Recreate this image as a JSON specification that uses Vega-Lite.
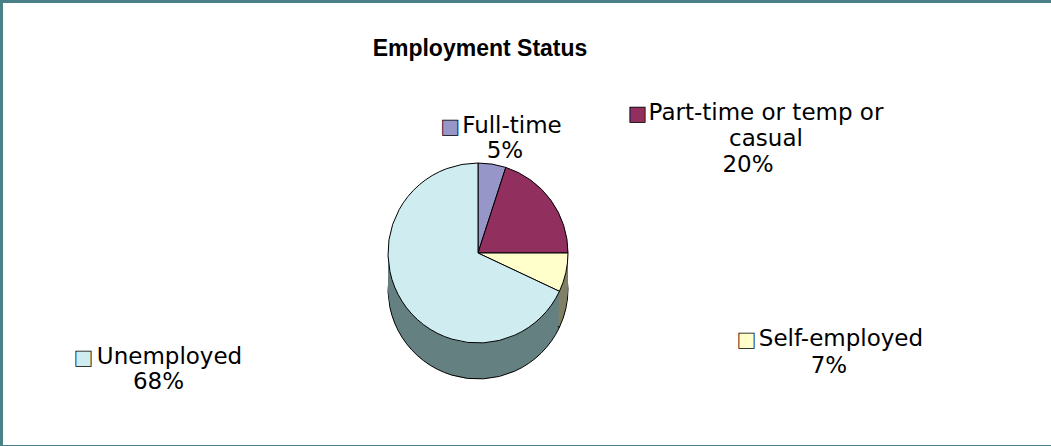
{
  "$schema": "https://vega.github.io/schema/vega-lite/v6.json",
  "autosize": {"type": "fit", "contains": "padding"},
  "width": 1051,
  "height": 446,
  "padding": {"left": 3, "top": 3, "right": 0, "bottom": 1},
  "background": "#4a8087",
  "view": {"stroke": null, "fill": "white"},
  "config": {"view": {"stroke": null, "fill": "white"}},
  "title": {"text": "Employment Status", "font": "Liberation Sans", "fontSize": 23, "fontWeight": "bold", "color": "#000000", "anchor": "middle", "baseline": "alphabetic", "dx": -47, "dy": 76, "offset": 0},
  "data": {"values": [
    {"category": "Full-time", "name": "Full-time", "pct": "5%", "value": 5, "order": 1},
    {"category": "Part-time or temp or casual", "name": "Part-time or temp or\ncasual", "pct": "20%", "value": 20, "order": 2},
    {"category": "Self-employed", "name": "Self-employed", "pct": "7%", "value": 7, "order": 3},
    {"category": "Unemployed", "name": "Unemployed", "pct": "68%", "value": 68, "order": 4}
  ]},
  "encoding": {
    "theta": {"field": "value", "type": "quantitative", "stack": true},
    "order": {"field": "order", "type": "quantitative"}
  },
  "layer": [
    {"mark": {"type": "arc", "radius": 90, "xOffset": -49, "yOffset": 65, "stroke": "black", "strokeWidth": 1},
     "encoding": {"fill": {"field": "category", "type": "nominal", "legend": null, "scale": {"domain": ["Full-time", "Part-time or temp or casual", "Self-employed", "Unemployed"], "range": ["#4b4b64", "#481830", "#808066", "#658080"]}}}},
    {"mark": {"type": "arc", "radius": 90, "xOffset": -49, "yOffset": 61, "strokeWidth": 0},
     "encoding": {"fill": {"field": "category", "type": "nominal", "legend": null}}},
    {"mark": {"type": "arc", "radius": 90, "xOffset": -49, "yOffset": 57, "strokeWidth": 0},
     "encoding": {"fill": {"field": "category", "type": "nominal", "legend": null}}},
    {"mark": {"type": "arc", "radius": 90, "xOffset": -49, "yOffset": 53, "strokeWidth": 0},
     "encoding": {"fill": {"field": "category", "type": "nominal", "legend": null}}},
    {"mark": {"type": "arc", "radius": 90, "xOffset": -49, "yOffset": 49, "strokeWidth": 0},
     "encoding": {"fill": {"field": "category", "type": "nominal", "legend": null}}},
    {"mark": {"type": "arc", "radius": 90, "xOffset": -49, "yOffset": 45, "strokeWidth": 0},
     "encoding": {"fill": {"field": "category", "type": "nominal", "legend": null}}},
    {"mark": {"type": "arc", "radius": 90, "xOffset": -49, "yOffset": 41, "strokeWidth": 0},
     "encoding": {"fill": {"field": "category", "type": "nominal", "legend": null}}},
    {"mark": {"type": "arc", "radius": 90, "xOffset": -49, "yOffset": 37, "strokeWidth": 0},
     "encoding": {"fill": {"field": "category", "type": "nominal", "legend": null}}},
    {"mark": {"type": "arc", "radius": 90, "xOffset": -49, "yOffset": 33, "strokeWidth": 0},
     "encoding": {"fill": {"field": "category", "type": "nominal", "legend": null}}},
    {"mark": {"type": "arc", "radius": 90, "xOffset": -49, "yOffset": 29, "stroke": "black", "strokeWidth": 1},
     "encoding": {"color": {"field": "category", "type": "nominal", "legend": null, "scale": {"domain": ["Full-time", "Part-time or temp or casual", "Self-employed", "Unemployed"], "range": ["#9696c8", "#912f5f", "#ffffcc", "#cfedf0"]}}}},

    {"mark": {"type": "text", "clip": true, "radius": 120, "dx": -105.1, "dy": 27.8, "align": "left", "baseline": "alphabetic", "font": "DejaVu Sans", "fontSize": 20, "stroke": "black", "strokeWidth": 0.8},
     "encoding": {"detail": {"field": "category"}, "color": {"field": "category", "type": "nominal", "legend": null}, "text": {"condition": {"test": "datum.category === 'Full-time'", "value": "■"}, "value": ""}}},
    {"mark": {"type": "text", "clip": true, "radius": 120, "dx": -33.8, "dy": 27.8, "align": "center", "baseline": "alphabetic", "font": "DejaVu Sans", "fontSize": 23, "fill": "black"},
     "encoding": {"detail": {"field": "category"}, "text": {"condition": {"test": "datum.category === 'Full-time'", "field": "name", "type": "nominal"}, "value": ""}}},
    {"mark": {"type": "text", "clip": true, "radius": 120, "dx": -40.8, "dy": 52.8, "align": "center", "baseline": "alphabetic", "font": "DejaVu Sans", "fontSize": 23, "fill": "black"},
     "encoding": {"detail": {"field": "category"}, "text": {"condition": {"test": "datum.category === 'Full-time'", "field": "pct", "type": "nominal"}, "value": ""}}},

    {"mark": {"type": "text", "clip": true, "radius": 230, "dx": -85.1, "dy": 31, "align": "left", "baseline": "alphabetic", "font": "DejaVu Sans", "fontSize": 20, "stroke": "black", "strokeWidth": 0.8},
     "encoding": {"detail": {"field": "category"}, "color": {"field": "category", "type": "nominal", "legend": null}, "text": {"condition": {"test": "datum.category === 'Part-time or temp or casual'", "value": "■"}, "value": ""}}},
    {"mark": {"type": "text", "clip": true, "radius": 230, "dx": 52.9, "dy": 31, "align": "center", "baseline": "alphabetic", "font": "DejaVu Sans", "fontSize": 23, "fill": "black", "lineBreak": "\n", "lineHeight": 26},
     "encoding": {"detail": {"field": "category"}, "text": {"condition": {"test": "datum.category === 'Part-time or temp or casual'", "field": "name", "type": "nominal"}, "value": ""}}},
    {"mark": {"type": "text", "clip": true, "radius": 230, "dx": 34.9, "dy": 83.5, "align": "center", "baseline": "alphabetic", "font": "DejaVu Sans", "fontSize": 23, "fill": "black"},
     "encoding": {"detail": {"field": "category"}, "text": {"condition": {"test": "datum.category === 'Part-time or temp or casual'", "field": "pct", "type": "nominal"}, "value": ""}}},

    {"mark": {"type": "text", "clip": true, "radius": 250, "dx": -34, "dy": 67.7, "align": "left", "baseline": "alphabetic", "font": "DejaVu Sans", "fontSize": 20, "stroke": "black", "strokeWidth": 0.8},
     "encoding": {"detail": {"field": "category"}, "color": {"field": "category", "type": "nominal", "legend": null}, "text": {"condition": {"test": "datum.category === 'Self-employed'", "value": "■"}, "value": ""}}},
    {"mark": {"type": "text", "clip": true, "radius": 250, "dx": 70, "dy": 67.7, "align": "center", "baseline": "alphabetic", "font": "DejaVu Sans", "fontSize": 23, "fill": "black"},
     "encoding": {"detail": {"field": "category"}, "text": {"condition": {"test": "datum.category === 'Self-employed'", "field": "name", "type": "nominal"}, "value": ""}}},
    {"mark": {"type": "text", "clip": true, "radius": 250, "dx": 58, "dy": 94.4, "align": "center", "baseline": "alphabetic", "font": "DejaVu Sans", "fontSize": 23, "fill": "black"},
     "encoding": {"detail": {"field": "category"}, "text": {"condition": {"test": "datum.category === 'Self-employed'", "field": "pct", "type": "nominal"}, "value": ""}}},

    {"mark": {"type": "text", "clip": true, "radius": 300, "dx": -199.7, "dy": -21.2, "align": "left", "baseline": "alphabetic", "font": "DejaVu Sans", "fontSize": 20, "stroke": "black", "strokeWidth": 0.8},
     "encoding": {"detail": {"field": "category"}, "color": {"field": "category", "type": "nominal", "legend": null}, "text": {"condition": {"test": "datum.category === 'Unemployed'", "value": "■"}, "value": ""}}},
    {"mark": {"type": "text", "clip": true, "radius": 300, "dx": -104.2, "dy": -21.2, "align": "center", "baseline": "alphabetic", "font": "DejaVu Sans", "fontSize": 23, "fill": "black"},
     "encoding": {"detail": {"field": "category"}, "text": {"condition": {"test": "datum.category === 'Unemployed'", "field": "name", "type": "nominal"}, "value": ""}}},
    {"mark": {"type": "text", "clip": true, "radius": 300, "dx": -115.2, "dy": 3.8, "align": "center", "baseline": "alphabetic", "font": "DejaVu Sans", "fontSize": 23, "fill": "black"},
     "encoding": {"detail": {"field": "category"}, "text": {"condition": {"test": "datum.category === 'Unemployed'", "field": "pct", "type": "nominal"}, "value": ""}}}
  ]
}
